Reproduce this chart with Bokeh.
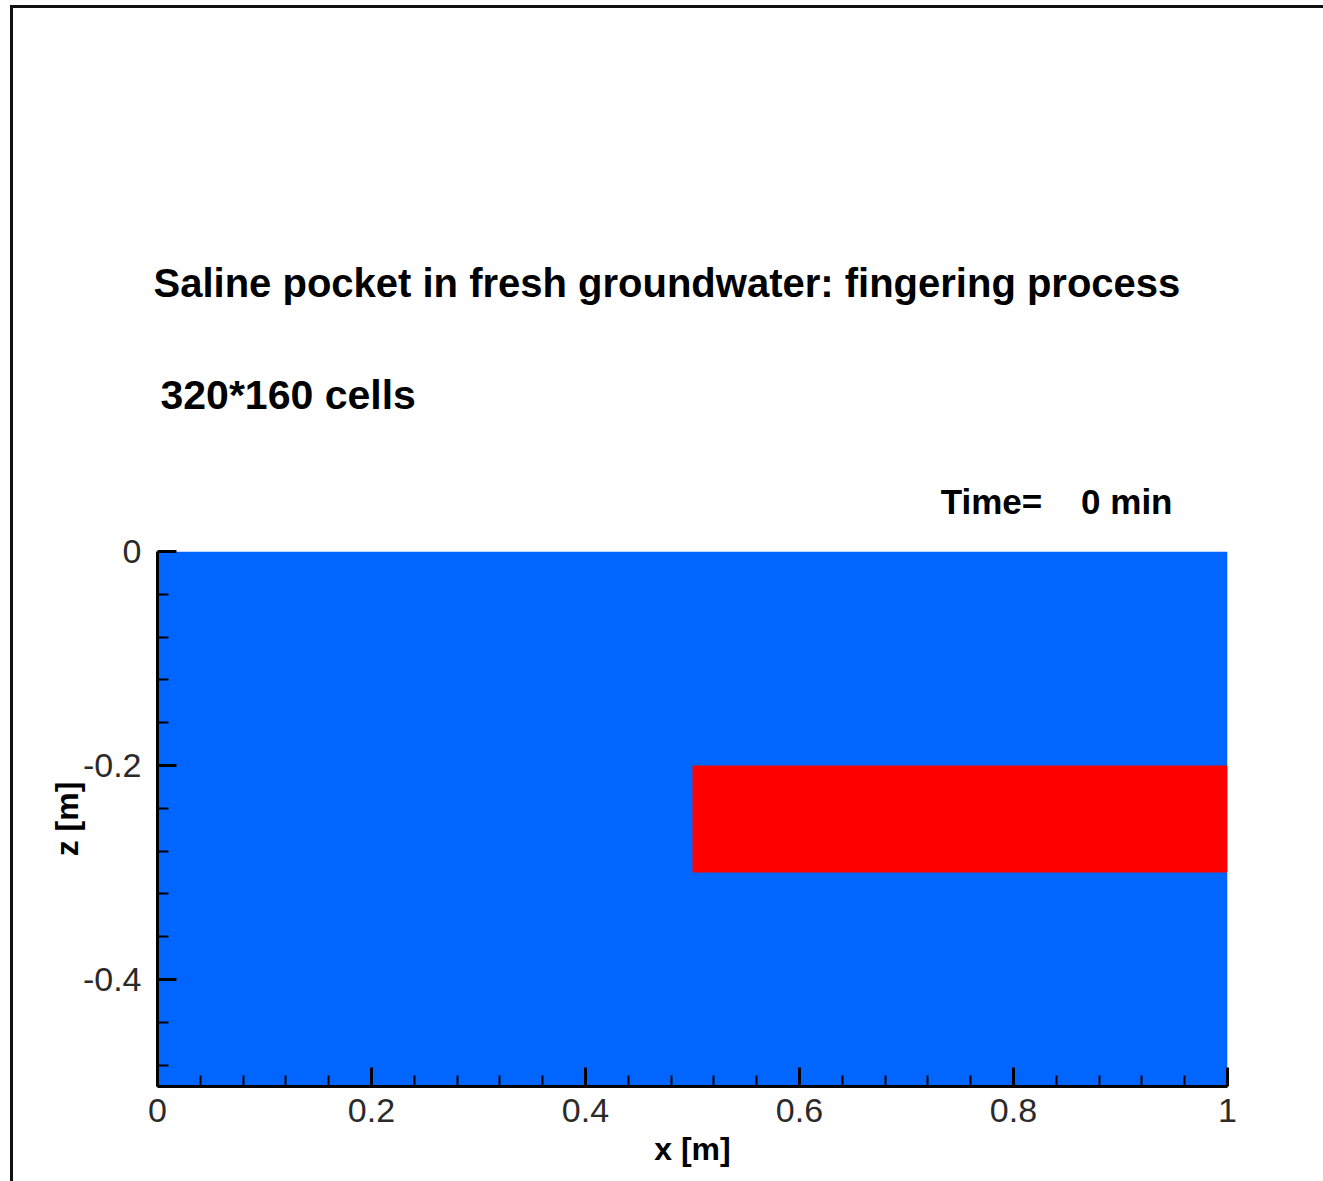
from bokeh.plotting import figure
from bokeh.models import Range1d, FixedTicker, Title
from bokeh.embed import file_html
from bokeh.resources import INLINE

# Domain and initial saline pocket (metres)
domain_x = [0.0, 1.0]
domain_z = [-0.5, 0.0]
pocket_x = [0.5, 1.0]
pocket_z = [-0.3, -0.2]

x_major = [0.0, 0.2, 0.4, 0.6, 0.8, 1.0]
x_minor = [0.04, 0.08, 0.12, 0.16, 0.24, 0.28, 0.32, 0.36, 0.44, 0.48, 0.52, 0.56,
           0.64, 0.68, 0.72, 0.76, 0.84, 0.88, 0.92, 0.96]
z_major = [-0.4, -0.2, 0.0]
z_minor = [-0.48, -0.44, -0.36, -0.32, -0.28, -0.24, -0.16, -0.12, -0.08, -0.04]

title_text = "Saline pocket in fresh groundwater: fingering process"
grid_text = "320*160 cells"
time_text = "Time=\u00a0\u00a0\u00a0 0 min"

FRESH = "#0066ff"
SALT = "#ff0000"
W, H = 1323, 1181

p = figure(width=W, height=H, output_backend="svg", toolbar_location=None,
           x_range=Range1d(domain_x[0], domain_x[1]),
           y_range=Range1d(domain_z[0], domain_z[1]),
           min_border_left=157, min_border_right=96,
           min_border_top=551, min_border_bottom=95,
           background_fill_color="white", border_fill_color=None)
p.outline_line_color = None
p.grid.grid_line_color = None

# page frame drawn behind the (transparent) canvas border
p.styles = {
    "background-color": "white",
    "background-image": "linear-gradient(#111, #111), linear-gradient(#111, #111)",
    "background-size": "3px 100%, 100% 3px",
    "background-position": "10px 5px, 10px 5px",
    "background-repeat": "no-repeat",
}

p.quad(left=[domain_x[0]], right=[domain_x[1]], bottom=[domain_z[0]], top=[domain_z[1]],
       fill_color=FRESH, line_color=None)
p.quad(left=[pocket_x[0]], right=[pocket_x[1]], bottom=[pocket_z[0]], top=[pocket_z[1]],
       fill_color=SALT, line_color=None)

p.xaxis.ticker = FixedTicker(ticks=x_major, minor_ticks=x_minor)
p.yaxis.ticker = FixedTicker(ticks=z_major, minor_ticks=z_minor)
# plain hyphen-minus in the tick labels
p.xaxis.major_label_overrides = {v: f"{v:g}" for v in x_major}
p.yaxis.major_label_overrides = {v: f"{v:g}" for v in z_major}
p.xaxis.axis_label = "x [m]"
p.yaxis.axis_label = "z [m]"

for ax in (p.xaxis[0], p.yaxis[0]):
    ax.axis_line_width = 3
    ax.axis_line_color = "black"
    ax.major_tick_in = 19
    ax.major_tick_out = 0
    ax.minor_tick_in = 11
    ax.minor_tick_out = 0
    ax.major_tick_line_width = 3
    ax.minor_tick_line_width = 2
    ax.major_tick_line_color = "black"
    ax.minor_tick_line_color = "black"
    ax.major_label_text_font = "Liberation Sans"
    ax.major_label_text_font_size = "34px"
    ax.major_label_text_color = "#2a2a2a"
    ax.axis_label_text_font = "Liberation Sans"
    ax.axis_label_text_font_size = "32px"
    ax.axis_label_text_font_style = "bold"
    ax.axis_label_text_color = "black"

p.xaxis.major_label_standoff = 12
p.yaxis.major_label_standoff = 16
p.xaxis.axis_label_standoff = 6
p.yaxis.axis_label_standoff = -5


def heading(txt, size, align, offset, standoff):
    return Title(text=txt, align=align, offset=offset, standoff=standoff,
                 text_font="Liberation Sans", text_font_style="bold",
                 text_font_size=size, text_color="black")


# stacked outward from the frame
p.add_layout(heading(time_text, "35px", "right", 55, 62), "above")
p.add_layout(heading(grid_text, "41px", "left", 3, 62), "above")
p.add_layout(heading(title_text, "40px", "left", -4, 67), "above")

open("out.html", "w").write(file_html(p, INLINE))
